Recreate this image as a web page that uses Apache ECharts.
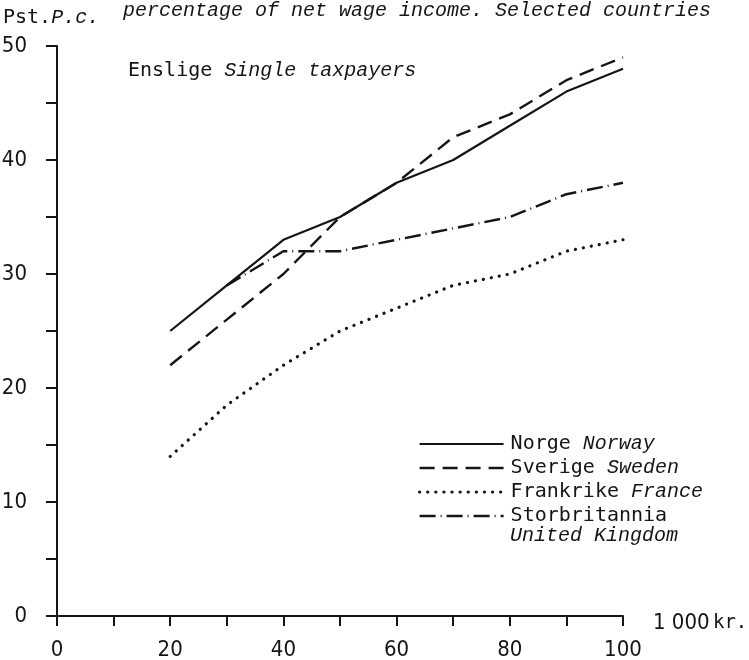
<!DOCTYPE html>
<html><head><meta charset="utf-8">
<script src="https://cdn.jsdelivr.net/npm/echarts@6/dist/echarts.min.js"></script>
<style>html,body{margin:0;padding:0;background:#fff}#c{width:749px;height:660px}</style>
</head><body><div id="c"></div>
<script>
// Income (1 000 kr.)
const incomes = [20, 30, 40, 50, 60, 70, 80, 90, 100];
// Tax as percentage of net wage income, single taxpayers
const norway = [25, 29, 33, 35, 38, 40, 43, 46, 48];
const sweden = [22, 26, 30, 35, 38, 42, 44, 47, 49];
const france = [14, 18.5, 22, 25, 27, 29, 30, 32, 33];
const uk     = [null, 29, 32, 32, 33, 34, 35, 37, 38];
const xTickLabels = [0, 20, 40, 60, 80, 100];
const yTickLabels = [0, 10, 20, 30, 40, 50];
const seriesNames = ['Norge', 'Sverige', 'Frankrike', 'Storbritannia'];
const seriesEnglish = ['Norway', 'Sweden', 'France', 'United Kingdom'];

const INK = '#151515';
const MONO = '"DejaVu Sans Mono", "Liberation Mono", monospace';
const ITAL = '"Liberation Mono", "DejaVu Sans Mono", monospace';
const NUM = '"Liberation Sans Narrow", "DejaVu Sans Condensed", "Liberation Sans", sans-serif';

function pairs(vals) { return incomes.map((x, i) => [x, vals[i]]); }

const chart = echarts.init(document.getElementById('c'), null, {renderer: 'canvas'});

const lineTypes = [
  {type: 'solid', width: 2.2},
  {type: [15, 8], width: 2.4},
  {type: [0.1, 8], width: 3.2, cap: 'round'},
  {type: [16, 5, 1, 5], width: 2.4}
];
const data = [norway, sweden, france, uk];

function lineStyleOf(i) {
  return {color: INK, width: lineTypes[i].width, type: lineTypes[i].type, cap: lineTypes[i].cap || 'butt'};
}

const series = seriesNames.map((n, i) => ({
  name: n,
  type: 'line',
  data: pairs(data[i]),
  symbol: 'none',
  connectNulls: false,
  lineStyle: lineStyleOf(i),
  itemStyle: {color: INK},
  emphasis: {disabled: true},
  animation: false,
  z: 3 - i
}));

const option = {
  backgroundColor: '#fff',
  animation: false,
  grid: {left: 57, right: 126, top: 46, bottom: 44, containLabel: false, outerBoundsMode: 'none'},
  xAxis: {
    type: 'value', min: 0, max: 100, interval: 10,
    axisLine: {show: true, lineStyle: {color: INK, width: 2}},
    axisTick: {show: true, length: 10, lineStyle: {color: INK, width: 2}},
    axisLabel: {
      color: INK, fontFamily: NUM, fontSize: 22, margin: 23,
      formatter: v => xTickLabels.includes(v) ? String(v) : ''
    },
    splitLine: {show: false},
    name: '{n|1 000} {t|kr.}', nameLocation: 'end', nameGap: 30,
    nameTextStyle: {
      color: INK, padding: [15, 0, 0, 0],
      rich: {
        n: {fontFamily: NUM, fontSize: 22, color: INK},
        t: {fontFamily: MONO, fontSize: 19, color: INK}
      }
    }
  },
  yAxis: {
    type: 'value', min: 0, max: 50, interval: 5,
    axisLine: {show: true, lineStyle: {color: INK, width: 2}},
    axisTick: {show: true, length: 11, lineStyle: {color: INK, width: 2}},
    axisLabel: {
      color: INK, fontFamily: NUM, fontSize: 22, margin: 30,
      formatter: v => yTickLabels.includes(v) ? String(v) : ''
    },
    splitLine: {show: false}
  },
  legend: {
    orient: 'vertical', left: 413, top: 429,
    itemWidth: 84, itemHeight: 14, itemGap: 4,
    selectedMode: false,
    itemStyle: {opacity: 0},
    data: seriesNames.map((n, i) => ({name: n, lineStyle: lineStyleOf(i)})),
    formatter: name => {
      const i = seriesNames.indexOf(name);
      return '{a|' + name + '}' + (i < 3 ? '{b|\u00a0' + seriesEnglish[i] + '}' : '');
    },
    textStyle: {
      color: INK, padding: [0, 0, 0, 2],
      rich: {
        a: {fontFamily: MONO, fontSize: 20, color: INK},
        b: {fontFamily: ITAL, fontStyle: 'italic', fontSize: 20, color: INK}
      }
    }
  },
  graphic: [
    {type: 'text', left: 3, top: 8, style: {
      text: '{a|Pst.}{b|P.c.}',
      rich: {
        a: {fontFamily: MONO, fontSize: 20, fill: INK},
        b: {fontFamily: ITAL, fontStyle: 'italic', fontSize: 20, fill: INK}
      }
    }},
    {type: 'text', left: 123, top: 1, style: {
      text: 'percentage of net wage income. Selected countries',
      fontFamily: ITAL, fontStyle: 'italic', fontSize: 20, fill: INK
    }},
    {type: 'text', left: 128, top: 61, style: {
      text: '{a|Enslige}{b|\u00a0Single taxpayers}',
      rich: {
        a: {fontFamily: MONO, fontSize: 20, fill: INK},
        b: {fontFamily: ITAL, fontStyle: 'italic', fontSize: 20, fill: INK}
      }
    }},
    {type: 'text', left: 510, top: 526, style: {
      text: seriesEnglish[3],
      fontFamily: ITAL, fontStyle: 'italic', fontSize: 20, fill: INK
    }}
  ],
  series: series
};
chart.setOption(option);
</script>
</body></html>
